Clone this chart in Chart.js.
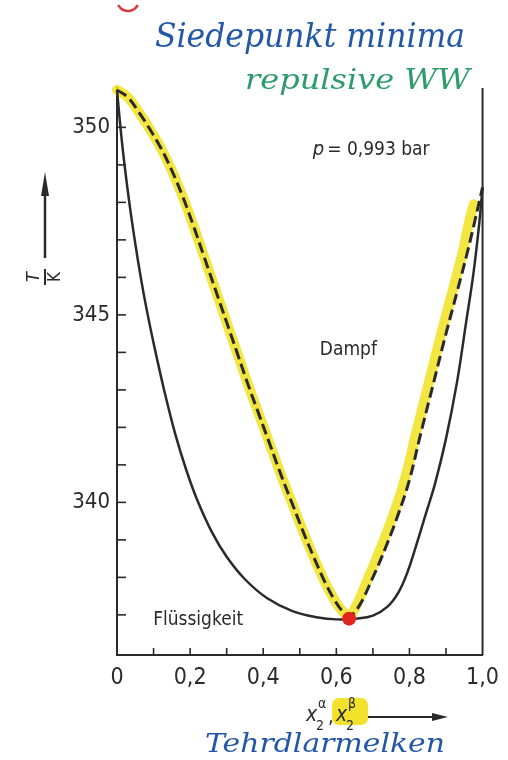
<!DOCTYPE html>
<html>
<head>
<meta charset="utf-8">
<script src="https://cdn.jsdelivr.net/npm/chart.js@4/dist/chart.umd.min.js"></script>
<style>
  html, body { margin: 0; padding: 0; background: #fff; }
  canvas { display: block; }
</style>
</head>
<body>
<canvas id="c" width="508" height="760"></canvas>
<script>
// Taupunktkurve (gestrichelt), x2 -> T/K
const dewX = [0, 0.03, 0.06, 0.09, 0.12, 0.15, 0.18, 0.21, 0.24, 0.27, 0.3, 0.33, 0.36, 0.39, 0.42, 0.45, 0.48, 0.51, 0.54, 0.57, 0.595, 0.615, 0.635, 0.66, 0.7, 0.735, 0.77, 0.8, 0.83, 0.865, 0.9, 0.93, 0.958, 0.98, 1.0];
const dewT = [351.0, 350.8, 350.4, 349.95, 349.45, 348.85, 348.15, 347.35, 346.5, 345.65, 344.8, 343.95, 343.1, 342.3, 341.5, 340.7, 339.95, 339.2, 338.5, 337.85, 337.4, 337.12, 336.97, 337.2, 338.0, 338.8, 339.7, 340.6, 341.8, 343.15, 344.5, 345.6, 346.65, 347.55, 348.4];

// Siedekurve (durchgezogen)
const bubbleX = [0, 0.01, 0.02, 0.035, 0.05, 0.065, 0.08, 0.1, 0.13, 0.16, 0.19, 0.22, 0.26, 0.3, 0.35, 0.41, 0.48, 0.55, 0.6, 0.655, 0.7, 0.74, 0.77, 0.795, 0.82, 0.845, 0.87, 0.9, 0.93, 0.955, 0.975, 0.99, 1.0];
const bubbleT = [351.0, 349.95, 349.05, 347.9, 346.9, 346.0, 345.2, 344.25, 342.95, 341.8, 340.85, 340.05, 339.2, 338.55, 337.95, 337.45, 337.1, 336.93, 336.88, 336.9, 336.98, 337.22, 337.6, 338.15, 338.9, 339.7, 340.5, 341.7, 343.2, 344.8, 346.1, 347.35, 348.4];

// gelber Textmarker entlang der Taupunktkurve
const markX = [0, 0.03, 0.06, 0.09, 0.12, 0.15, 0.18, 0.21, 0.24, 0.27, 0.3, 0.33, 0.36, 0.39, 0.42, 0.45, 0.48, 0.51, 0.54, 0.57, 0.595, 0.615, 0.635, 0.65, 0.688, 0.722, 0.757, 0.787, 0.817, 0.852, 0.887, 0.917, 0.945, 0.965, 0.976];
const markT = [351.0, 350.8, 350.4, 349.95, 349.45, 348.85, 348.15, 347.35, 346.5, 345.65, 344.8, 343.95, 343.1, 342.3, 341.5, 340.7, 339.95, 339.2, 338.5, 337.85, 337.4, 337.12, 336.97, 337.15, 338.0, 338.8, 339.7, 340.6, 341.8, 343.15, 344.5, 345.6, 346.65, 347.55, 347.95];

const azeotrop = [{ x: 0.635, y: 336.9 }];

const xLabels = [0, 0.2, 0.4, 0.6, 0.8, 1.0];
const xMinor = [0.1, 0.2, 0.3, 0.4, 0.5, 0.6, 0.7, 0.8, 0.9];
const yLabels = [340, 345, 350];
const yMinor = [337, 338, 339, 340, 341, 342, 343, 344, 345, 346, 347, 348, 349, 350];

const ink = '#2a2a2a';
const axisFont = "'DejaVu Sans Condensed', 'Liberation Sans Narrow', sans-serif";

const pts = (xs, ys) => xs.map((x, i) => ({ x, y: ys[i] }));

const fitText = (ctx, text, x, y, w, font, color) => {
  ctx.save();
  ctx.font = font;
  ctx.fillStyle = color;
  const m = ctx.measureText(text).width;
  ctx.translate(x, y);
  ctx.scale(w / m, 1);
  ctx.fillText(text, 0, 0);
  ctx.restore();
};

const extras = {
  id: 'extras',
  afterDatasetsDraw(chart) {
    const { ctx, chartArea: a, scales: { x, y } } = chart;
    ctx.save();
    ctx.strokeStyle = ink;
    ctx.lineWidth = 2;
    // rechte Achse
    ctx.beginPath();
    ctx.moveTo(a.right, a.top);
    ctx.lineTo(a.right, a.bottom);
    ctx.stroke();
    // Ticks nach innen
    ctx.lineWidth = 1.6;
    yMinor.forEach((v) => {
      const py = y.getPixelForValue(v);
      ctx.beginPath();
      ctx.moveTo(a.left, py);
      ctx.lineTo(a.left + 9, py);
      ctx.stroke();
    });
    xMinor.forEach((v) => {
      const px = x.getPixelForValue(v);
      ctx.beginPath();
      ctx.moveTo(px, a.bottom);
      ctx.lineTo(px, a.bottom - 7);
      ctx.stroke();
    });

    ctx.fillStyle = ink;
    ctx.textBaseline = 'middle';
    ctx.textAlign = 'left';
    ctx.font = `italic 20px ${axisFont}`;
    const px0 = x.getPixelForValue(0.53);
    const py0 = y.getPixelForValue(349.39);
    ctx.fillText('p', px0 + 2, py0);
    ctx.font = `19px ${axisFont}`;
    ctx.fillText(' = 0,993 bar', px0 + 11, py0);
    ctx.textAlign = 'center';
    ctx.fillText('Dampf', x.getPixelForValue(0.633), y.getPixelForValue(344.07));
    ctx.fillText('Flüssigkeit', x.getPixelForValue(0.222), y.getPixelForValue(336.86));

    // x-Achsentitel
    ctx.fillStyle = '#f3e22c';
    ctx.beginPath();
    ctx.roundRect(332, 698, 36, 27, 7);
    ctx.fill();
    ctx.fillStyle = ink;
    ctx.textAlign = 'left';
    ctx.textBaseline = 'alphabetic';
    ctx.font = `italic 21px ${axisFont}`;
    ctx.fillText('x', 306, 721);
    ctx.fillText('x', 336, 721);
    ctx.font = `14px ${axisFont}`;
    ctx.fillText('2', 316, 730);
    ctx.fillText('2', 346, 730);
    ctx.fillText('α', 318, 708);
    ctx.fillText('β', 348, 708);
    ctx.font = `20px ${axisFont}`;
    ctx.fillText(',', 328, 723);
    ctx.lineWidth = 2;
    ctx.beginPath();
    ctx.moveTo(368, 717);
    ctx.lineTo(438, 717);
    ctx.stroke();
    ctx.beginPath();
    ctx.moveTo(448, 717);
    ctx.lineTo(432, 713);
    ctx.lineTo(432, 721);
    ctx.closePath();
    ctx.fill();

    // y-Achsentitel
    ctx.lineWidth = 2.5;
    ctx.beginPath();
    ctx.moveTo(45, 192);
    ctx.lineTo(45, 258);
    ctx.stroke();
    ctx.beginPath();
    ctx.moveTo(45, 172);
    ctx.lineTo(41, 196);
    ctx.lineTo(49, 196);
    ctx.closePath();
    ctx.fill();
    ctx.save();
    ctx.translate(45, 277);
    ctx.rotate(-Math.PI / 2);
    ctx.font = `italic 18px ${axisFont}`;
    ctx.textAlign = 'center';
    ctx.textBaseline = 'middle';
    ctx.fillText('T', 0, -11);
    ctx.font = `17px ${axisFont}`;
    ctx.fillText('K', 0, 11);
    ctx.lineWidth = 2;
    ctx.beginPath();
    ctx.moveTo(-8, 0);
    ctx.lineTo(8, 0);
    ctx.stroke();
    ctx.restore();

    // handschriftliche Notizen
    fitText(ctx, 'Siedepunkt minima', 155, 47, 310, "italic 34px 'DejaVu Serif', serif", '#2357a8');
    fitText(ctx, 'repulsive WW', 245, 89, 225, "italic 28px 'DejaVu Serif', serif", '#2d9c6c');
    fitText(ctx, 'Tehrdlarmelken', 205, 752, 240, "italic 26px 'DejaVu Serif', serif", '#2357a8');
    ctx.strokeStyle = '#d8363a';
    ctx.lineWidth = 2.5;
    ctx.beginPath();
    ctx.arc(128, 0, 11, 0.15 * Math.PI, 0.85 * Math.PI);
    ctx.stroke();
    ctx.restore();
  }
};

new Chart(document.getElementById('c'), {
  type: 'line',
  data: {
    datasets: [
      {
        data: pts(markX, markT),
        borderColor: 'rgba(242, 226, 30, 0.85)',
        borderWidth: 10,
        borderCapStyle: 'round',
        tension: 0.4,
        pointRadius: 0,
        clip: false,
        order: 3
      },
      {
        data: pts(bubbleX, bubbleT),
        borderColor: ink,
        borderWidth: 2.5,
        tension: 0.4,
        pointRadius: 0,
        clip: false,
        order: 2
      },
      {
        data: pts(dewX, dewT),
        borderColor: ink,
        borderWidth: 3,
        borderDash: [11, 5],
        tension: 0.4,
        pointRadius: 0,
        clip: false,
        order: 1
      },
      {
        type: 'scatter',
        data: azeotrop,
        pointRadius: 7,
        pointBackgroundColor: '#e2261f',
        pointBorderWidth: 0,
        order: 0
      }
    ]
  },
  options: {
    responsive: false,
    animation: false,
    devicePixelRatio: 1,
    layout: { padding: { top: 88, right: 18, bottom: 0, left: 0 } },
    plugins: { legend: { display: false }, tooltip: { enabled: false } },
    scales: {
      x: {
        type: 'linear',
        min: 0,
        max: 1,
        afterFit: (s) => { s.height = 105; },
        afterBuildTicks: (s) => { s.ticks = xLabels.map((value) => ({ value })); },
        grid: { display: false, drawTicks: false },
        border: { display: true, color: ink, width: 2 },
        ticks: {
          padding: 9,
          color: ink,
          font: { family: axisFont, size: 23 },
          callback: (v) => v.toFixed(1).replace('.', ',').replace(/^0,0$/, '0')
        }
      },
      y: {
        type: 'linear',
        min: 335.93,
        max: 351.05,
        afterFit: (s) => { s.width = 117; },
        afterBuildTicks: (s) => { s.ticks = yLabels.map((value) => ({ value })); },
        grid: { display: false, drawTicks: false },
        border: { display: true, color: ink, width: 2 },
        ticks: {
          padding: 7,
          color: ink,
          font: { family: axisFont, size: 22 },
          callback: (v) => String(v)
        }
      }
    }
  },
  plugins: [extras]
});
</script>
</body>
</html>
